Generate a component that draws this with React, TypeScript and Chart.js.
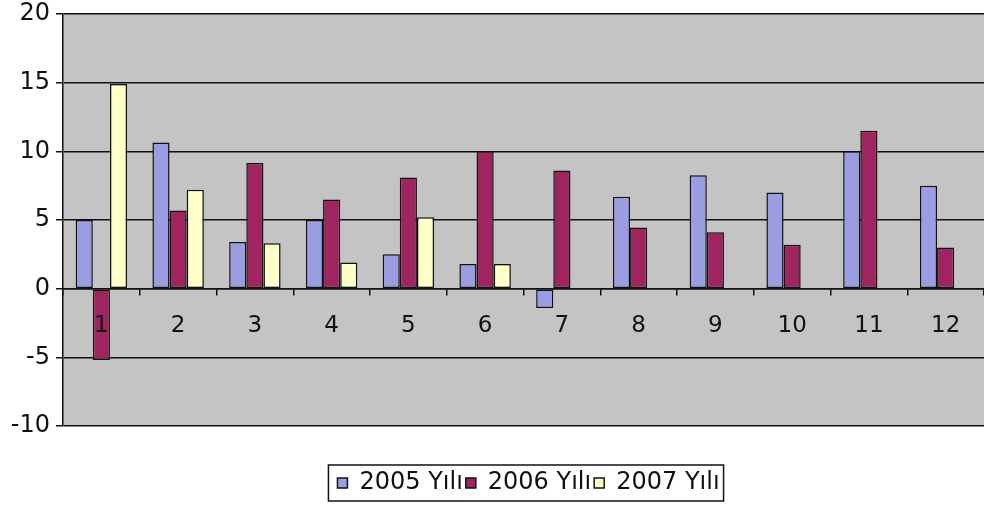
import React, { useEffect, useRef } from "react";
import { Chart, registerables } from "chart.js";

Chart.register(...registerables);

const categories = ["1", "2", "3", "4", "5", "6", "7", "8", "9", "10", "11", "12"];
const seriesNames = ["2005 Yılı", "2006 Yılı", "2007 Yılı"];
const values2005 = [5.0, 10.65, 3.4, 5.0, 2.5, 1.8, -1.4, 6.7, 8.25, 7.0, 10.0, 7.5];
const values2006 = [-5.2, 5.7, 9.15, 6.5, 8.1, 10.0, 8.6, 4.45, 4.1, 3.2, 11.5, 3.0];
const values2007 = [14.9, 7.2, 3.3, 1.9, 5.2, 1.8, null, null, null, null, null, null];
const yTicks = [-10, -5, 0, 5, 10, 15, 20];

const FONT = "'DejaVu Sans', Verdana, sans-serif";

const plotBg = {
  id: "plotBg",
  beforeDraw(chart: any) {
    const { ctx, chartArea } = chart;
    ctx.save();
    ctx.fillStyle = "#c4c4c4";
    ctx.fillRect(chartArea.left, chartArea.top, chartArea.right - chartArea.left, chartArea.bottom - chartArea.top);
    ctx.restore();
  },
};

const legendShift = {
  id: "legendShift",
  afterLayout(chart: any) {
    const lg = chart.legend;
    if (!lg) return;
    const dx = 5;
    lg.left += dx;
    lg.right += dx;
    if (lg.legendHitBoxes) lg.legendHitBoxes.forEach((h: any) => (h.left += dx));
  },
};

const legendBorder = {
  id: "legendBorder",
  afterDraw(chart: any) {
    const lg = chart.legend;
    if (!lg || !lg.legendHitBoxes || !lg.legendHitBoxes.length) return;
    const hb = lg.legendHitBoxes;
    let l = Infinity, r = -Infinity, t = Infinity, b = -Infinity;
    hb.forEach((h: any) => {
      l = Math.min(l, h.left);
      r = Math.max(r, h.left + h.width);
      t = Math.min(t, h.top);
      b = Math.max(b, h.top + h.height);
    });
    const { ctx } = chart;
    ctx.save();
    ctx.strokeStyle = "#111";
    ctx.lineWidth = 1.5;
    ctx.strokeRect(l - 9, t - 6, r - l + 13, b - t + 12);
    ctx.restore();
  },
};

export default function App() {
  const ref = useRef<HTMLCanvasElement | null>(null);
  useEffect(() => {
    if (!ref.current) return;
    const mk = (label: string, data: any[], color: string) => ({
      label,
      data,
      backgroundColor: color,
      borderColor: "#111",
      borderWidth: 1.5,
      borderSkipped: false,
      categoryPercentage: 0.67,
      barPercentage: 1.0,
    });
    const chart = new Chart(ref.current, {
      type: "bar",
      data: {
        labels: categories,
        datasets: [
          mk(seriesNames[0], values2005, "#9c9ce2"),
          mk(seriesNames[1], values2006, "#a0245f"),
          mk(seriesNames[2], values2007, "#ffffc8"),
        ],
      },
      plugins: [plotBg, legendShift, legendBorder],
      options: {
        responsive: false,
        animation: false,
        layout: { padding: { top: 14, left: 0, right: 0, bottom: 0 } },
        plugins: {
          tooltip: { enabled: false },
          legend: {
            position: "bottom",
            fullSize: false,
            labels: {
              boxWidth: 10,
              boxHeight: 10,
              padding: 3,
              color: "#111",
              font: { family: FONT, size: 24 },
            },
          },
        },
        scales: {
          x: {
            type: "category",
            position: { y: 0 } as any,
            offset: true,
            grid: {
              display: true,
              drawOnChartArea: false,
              drawTicks: true,
              tickLength: 6,
              offset: true,
              color: "#111",
              lineWidth: 1.5,
            },
            border: { display: true, color: "#111", width: 1.5 },
            ticks: { z: 1, color: "#111", font: { family: FONT, size: 23 }, padding: 18, maxRotation: 0 },
          },
          x2: {
            type: "category",
            position: "bottom",
            display: true,
            grid: { display: false, drawTicks: false },
            border: { display: false },
            ticks: { display: false },
            afterFit: (s: any) => {
              s.height = 42;
            },
          },
          y: {
            min: -10,
            max: 20,
            afterFit: (s: any) => {
              s.width = 63;
              s.paddingTop = 0;
              s.paddingBottom = 0;
            },
            afterBuildTicks: (s: any) => {
              s.ticks = yTicks.map((v) => ({ value: v }));
            },
            grid: { color: "#111", lineWidth: 1.5, tickLength: 7, drawTicks: true },
            border: { display: true, color: "#111", width: 1.5 },
            ticks: { color: "#111", font: { family: FONT, size: 24 }, padding: 6 },
          },
        },
      },
    } as any);
    return () => chart.destroy();
  }, []);
  return (
    <div style={{ position: "absolute", left: 0, top: 0, width: 984, height: 505, background: "#fff" }}>
      <canvas ref={ref} width={984} height={505} />
    </div>
  );
}
